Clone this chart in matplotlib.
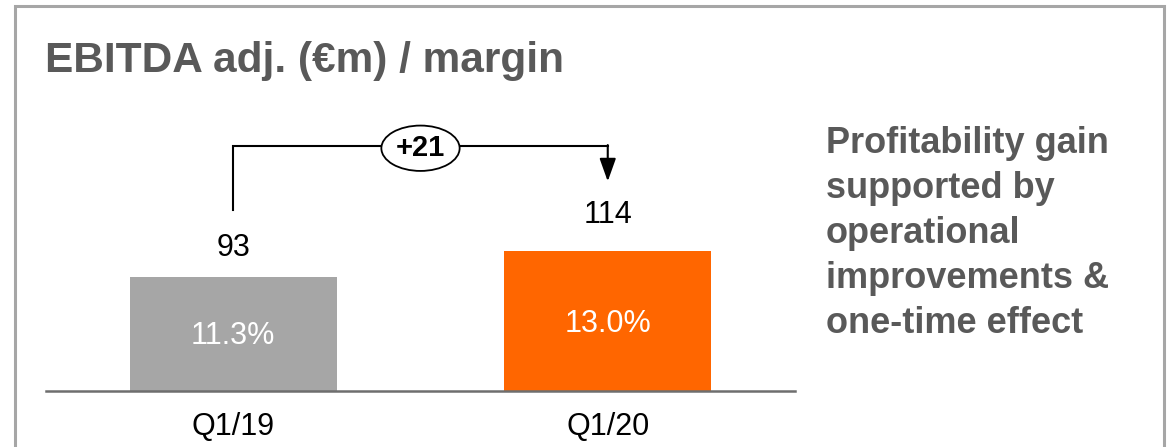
import matplotlib
matplotlib.use("Agg")
import matplotlib.pyplot as plt
from matplotlib.patches import Rectangle, Ellipse

plt.rcParams['font.family'] = ['Liberation Sans', 'DejaVu Sans']

# ---- data ----
categories = ["Q1/19", "Q1/20"]
ebitda = [93, 114]
margins = ["11.3%", "13.0%"]
delta_label = "+21"
title = "EBITDA adj. (€m) / margin"
comment = "Profitability gain\nsupported by\noperational\nimprovements &\none-time effect"
bar_colors = ["#A6A6A6", "#FF6600"]

W, H = 1175, 447
fig = plt.figure(figsize=(W / 100, H / 100), dpi=100)

def fx(px):
    return px / W

def fy(py):
    return 1 - py / H

# frame
fig.patches.append(Rectangle((fx(15), fy(460)), fx(1164) - fx(15), fy(6) - fy(460),
                             transform=fig.transFigure, fill=False,
                             edgecolor="#A6A6A6", linewidth=2.2, clip_on=False))

# title
fig.text(fx(45), fy(72), title, fontsize=30.5, fontweight="bold", color="#595959",
         ha="left", va="baseline")

# right comment
fig.text(fx(826), fy(126), comment, fontsize=26, fontweight="bold", color="#595959",
         ha="left", va="top", linespacing=1.37)

# bar axes
ax = fig.add_axes([fx(46), fy(391), fx(795) - fx(46), fy(100) - fy(391)])
x = list(range(len(categories)))
ax.bar(x, ebitda, width=0.554, color=bar_colors, zorder=2)
ax.set_xlim(-0.5, 1.5)
ax.set_ylim(0, 291 / 1.226)
for s in ["top", "right", "left"]:
    ax.spines[s].set_visible(False)
ax.spines["bottom"].set_color("#6E6E6E")
ax.spines["bottom"].set_linewidth(1.8)
ax.set_yticks([])
ax.set_xticks(x)
ax.set_xticklabels(categories, fontsize=22, color="black")
ax.tick_params(axis="x", length=0, pad=15)
ax.patch.set_alpha(0)

label_pad = [10, 15]
for xi, v, m, pad in zip(x, ebitda, margins, label_pad):
    ax.annotate(str(v), (xi, v), xytext=(0, pad), textcoords="offset points",
                ha="center", va="bottom", fontsize=22, color="black")
    ax.text(xi, v / 2 - 2, m, ha="center", va="center", fontsize=22, color="white")

# bracket
top_y = 200
ax.plot([x[0], x[0], x[1]], [ebitda[0] + 55, top_y, top_y], color="black", lw=1.5,
        solid_joinstyle="miter", clip_on=False)
ax.annotate("", xy=(x[1], ebitda[1] + 57), xytext=(x[1], top_y + 0.6),
            arrowprops=dict(arrowstyle="-|>,head_length=1.4,head_width=0.5",
                            color="black", lw=1.5, shrinkA=0, shrinkB=0),
            annotation_clip=False)
mid = (x[0] + x[1]) / 2
ax.add_patch(Ellipse((mid, top_y - 2), 0.209, 37, facecolor="white", edgecolor="black",
                     lw=1.3, zorder=5, clip_on=False))
ax.text(mid, top_y - 2, delta_label, ha="center", va="center", fontsize=21,
        fontweight="bold", color="black", zorder=6)

fig.savefig("out.png", dpi=100)
